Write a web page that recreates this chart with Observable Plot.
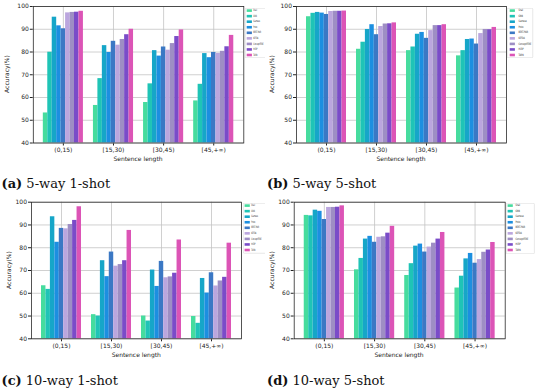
<!DOCTYPE html>
<html><head><meta charset="utf-8">
<script src="https://cdn.jsdelivr.net/npm/d3@7"></script>
<script src="https://cdn.jsdelivr.net/npm/@observablehq/plot@0.6"></script>
<style>
body{margin:0;background:#fff;}
#root{position:relative;width:550px;height:389px;overflow:hidden;background:#fff;}
.abs{position:absolute;}
.ylab{position:absolute;font:6px "DejaVu Sans";color:#222;white-space:nowrap;transform:translate(-50%,-50%) rotate(-90deg);}
.xlab{position:absolute;font:6px "DejaVu Sans";color:#222;white-space:nowrap;transform:translate(-50%,-50%);}
.cap{position:absolute;font:13px "DejaVu Serif";color:#111;white-space:nowrap;transform:translateY(-50%);}
.cap b{font-weight:bold;}
</style>
</head><body><div id="root"></div>
<script>
// ---------- data ----------
const groups = ["(0,15)", "[15,30)", "[30,45)", "[45,+∞)"];
const series = ["Snail", "GNN", "Siamese", "Proto", "BERT-PAIR", "KEFDA", "ConceptFERE", "HCRP", "TARN"];
const colors = ["#46dc9e", "#1fc4b6", "#16a6c8", "#1c8fe0", "#3b78c4", "#bba6de", "#9e8ec4", "#7a4cc8", "#dc54b6"];
const yTicks = [40, 50, 60, 70, 80, 90, 100];

// accuracy per group (rows) and method (columns)
const way5shot1 = [
  [53.2, 79.9, 95.3, 91.5, 90.2, 97.2, 97.4, 97.5, 97.9],
  [56.5, 68.3, 82.8, 79.8, 84.7, 83.0, 85.5, 87.6, 90.0],
  [57.8, 66.0, 80.6, 78.2, 82.2, 80.8, 83.7, 86.8, 89.7],
  [58.5, 65.8, 79.3, 77.5, 79.8, 79.4, 80.3, 82.3, 87.3]
];
const way5shot5 = [
  [95.5, 97.0, 97.4, 97.1, 96.5, 97.8, 97.9, 97.9, 98.0],
  [81.2, 84.3, 89.9, 92.0, 87.6, 91.2, 92.3, 92.4, 92.8],
  [80.6, 82.2, 87.8, 88.6, 86.0, 89.4, 91.6, 91.6, 92.0],
  [78.3, 80.6, 85.5, 85.7, 83.5, 88.1, 89.9, 89.8, 90.8]
];
const way10shot1 = [
  [63.3, 61.7, 93.6, 82.4, 88.5, 88.3, 90.2, 92.0, 98.0],
  [50.6, 50.0, 74.3, 67.3, 78.1, 71.9, 72.6, 74.3, 87.6],
  [50.0, 47.8, 70.2, 63.0, 74.0, 66.8, 67.2, 68.8, 83.4],
  [49.8, 46.8, 66.5, 60.1, 69.0, 63.2, 65.4, 67.0, 82.0]
];
const way10shot5 = [
  [94.2, 94.0, 96.5, 96.0, 92.4, 97.7, 97.7, 97.8, 98.4],
  [70.3, 75.3, 83.8, 85.0, 82.4, 84.6, 84.8, 86.4, 89.4],
  [67.8, 73.0, 80.7, 81.6, 78.1, 80.3, 82.0, 83.8, 86.7],
  [62.3, 67.5, 75.1, 77.5, 73.2, 74.8, 78.0, 79.0, 82.3]
];
const captionsTag = ["(a)", "(b)", "(c)", "(d)"];
const captionsText = ["5-way 1-shot", "5-way 5-shot", "10-way 1-shot", "10-way 5-shot"];
const yTitle = "Accuracy(%)";
const xTitle = "Sentence length";

// ---------- layout ----------
const root = document.getElementById("root");
const panels = [
  {data: way5shot1, left: 0, top: 0, width: 245, height: 170, mL: 32.8, mR: 1.7, mT: 6, mB: 27.5,
   yl: [6, 74], xl: [138, 158.3], cap: [1.5, 183],
   leg: {x: 245, y: 8.3, w: 20, boxW: 30, h: 50, sx: 1.7, tx: 8.3, sc: 0.5}},
  {data: way5shot5, left: 264, top: 0, width: 246, height: 170, mL: 32, mR: 4, mT: 6, mB: 27.5,
   yl: [271, 74], xl: [401, 158.3], cap: [267, 183],
   leg: {x: 507.3, y: 8.3, w: 27, boxW: 26, h: 50, sx: 2.7, tx: 11.5, sc: 0.62}},
  {data: way10shot1, left: 0, top: 195, width: 245, height: 170, mL: 31, mR: 4, mT: 6.7, mB: 26.7,
   yl: [7.5, 270], xl: [136.3, 354.3], cap: [1.5, 380],
   leg: {x: 242.7, y: 203.3, w: 22.3, boxW: 30, h: 50.5, sx: 1.6, tx: 8.3, sc: 0.5}},
  {data: way10shot5, left: 264, top: 195, width: 246, height: 170, mL: 29.7, mR: 5.3, mT: 6.7, mB: 26.7,
   yl: [271, 270], xl: [399, 354.3], cap: [267, 380],
   leg: {x: 505.7, y: 203.3, w: 29, boxW: 28.6, h: 51, sx: 1.6, tx: 9.5, sc: 0.62}}
];

const bw = 0.8 / series.length;

panels.forEach((p, k) => {
  const rows = [];
  p.data.forEach((vals, gi) => vals.forEach((v, si) => rows.push({group: groups[gi], gi, series: series[si], si, value: v})));
  const chart = Plot.plot({
    width: p.width, height: p.height,
    marginLeft: p.mL, marginRight: p.mR, marginTop: p.mT, marginBottom: p.mB,
    style: {fontFamily: "DejaVu Sans", fontSize: "6px", color: "#222", background: "transparent", overflow: "visible"},
    x: {domain: [-0.6, 3.6], ticks: [0, 1, 2, 3], tickFormat: i => groups[i], label: null, tickSize: 3, tickPadding: 1.5},
    y: {domain: [yTicks[0], yTicks[yTicks.length - 1]], ticks: yTicks, label: null, tickSize: 3, tickPadding: 1.5},
    color: {domain: series, range: colors},
    marks: [
      Plot.ruleX([0, 1, 2, 3], {stroke: "#c4c4c4", strokeWidth: 0.8}),
      Plot.ruleY(yTicks, {stroke: "#c4c4c4", strokeWidth: 0.8}),
      Plot.rect(rows, {
        x1: d => d.gi - 0.4 + d.si * bw,
        x2: d => d.gi - 0.4 + (d.si + 1) * bw,
        y1: () => yTicks[0],
        y2: "value",
        fill: "series"
      }),
      Plot.frame({stroke: "#2a2a2a", strokeWidth: 0.8})
    ]
  });
  chart.classList.add("abs");
  chart.style.left = p.left + "px";
  chart.style.top = p.top + "px";
  root.appendChild(chart);

  const yl = document.createElement("div");
  yl.className = "ylab"; yl.textContent = yTitle;
  yl.style.left = p.yl[0] + "px"; yl.style.top = p.yl[1] + "px";
  root.appendChild(yl);

  const xl = document.createElement("div");
  xl.className = "xlab"; xl.textContent = xTitle;
  xl.style.left = p.xl[0] + "px"; xl.style.top = p.xl[1] + "px";
  root.appendChild(xl);

  const cap = document.createElement("div");
  cap.className = "cap";
  cap.innerHTML = "<b>" + captionsTag[k] + "</b> " + captionsText[k];
  cap.style.left = p.cap[0] + "px"; cap.style.top = p.cap[1] + "px";
  root.appendChild(cap);

  // legend
  const L = p.leg;
  const svg = d3.select(root).append("svg")
    .attr("width", L.w).attr("height", L.h)
    .style("position", "absolute").style("left", L.x + "px").style("top", L.y + "px")
    .style("overflow", "hidden");
  svg.append("rect").attr("x", 0.25).attr("y", 0.25).attr("width", L.boxW - 0.5).attr("height", L.h - 0.5)
    .attr("rx", 1).attr("fill", "white").attr("stroke", "#cfcfcf").attr("stroke-width", 0.5);
  series.forEach((s, i) => {
    const cy = 2.6 + i * 5.55;
    svg.append("rect").attr("x", L.sx).attr("y", cy - 1.3).attr("width", 5.2).attr("height", 2.6).attr("fill", colors[i]);
    svg.append("text").attr("transform", `translate(${L.tx},${cy}) scale(${L.sc},1)`)
      .attr("dominant-baseline", "central").attr("font-family", "DejaVu Sans").attr("font-size", 3.1)
      .attr("fill", "#222").text(s);
  });
});
</script>
</body></html>
